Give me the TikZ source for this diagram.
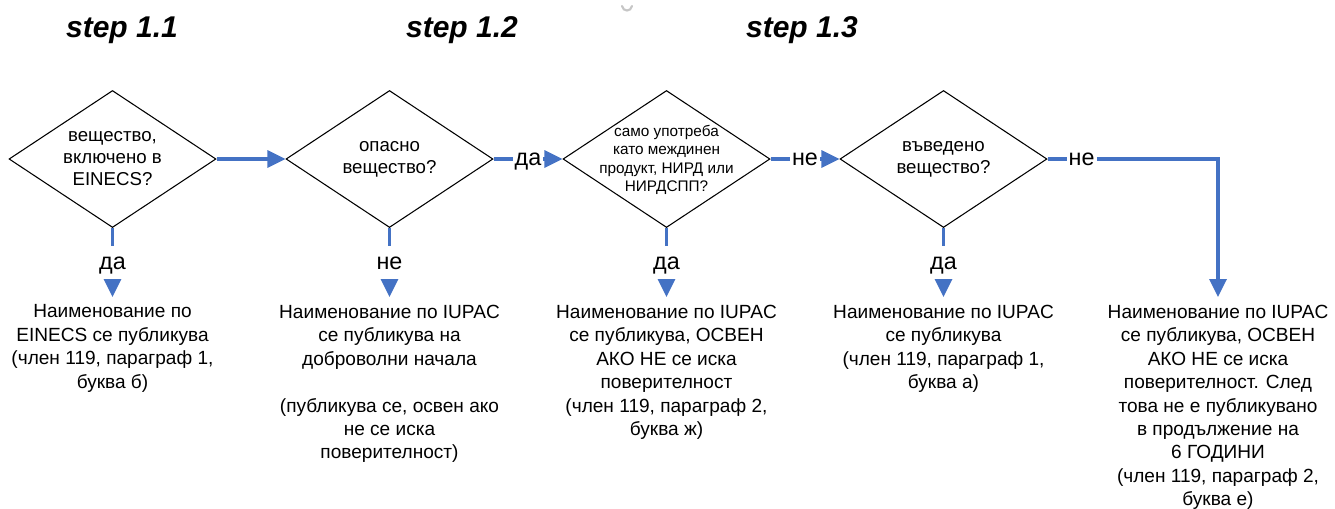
\documentclass[tikz,border=0pt]{standalone}
\usepackage{fontspec}
\setmainfont{Liberation Sans}
\usetikzlibrary{shapes.geometric,arrows.meta}
\definecolor{flowblue}{HTML}{4472C4}
\begin{document}
\begin{tikzpicture}[x=0.75pt,y=-0.75pt,
  decision/.style={diamond,draw=black,line width=0.8pt,
    minimum width=155.25pt,minimum height=102.75pt,inner sep=0pt},
  qtext/.style={align=center,inner sep=0pt,
    font=\fontsize{14pt}{16.5pt}\selectfont},
  qsmall/.style={align=center,inner sep=0pt,
    font=\fontsize{11.5pt}{13.9pt}\selectfont},
  outcome/.style={anchor=north,align=center,inner xsep=0pt,inner ysep=5.7pt,
    font=\fontsize{14.3pt}{17.6pt}\selectfont},
  flow/.style={draw=flowblue,line width=2.5pt,
    -{Triangle[length=13.5pt,width=12.75pt]}},
  lab/.style={fill=white,inner xsep=1.5pt,inner ysep=0pt,minimum height=24.75pt,
    text height=10pt,text depth=0pt,
    font=\fontsize{17.5pt}{20pt}\selectfont},
  steptitle/.style={anchor=base,font=\fontsize{22.5pt}{27pt}\selectfont\bfseries\itshape}
]
\useasboundingbox (0,0) rectangle (1335,508);

% step headings
\node[steptitle] (s1) at (122,37) {step 1.1};
\node[steptitle] (s2) at (462,37) {step 1.2};
\node[steptitle] (s3) at (802,37) {step 1.3};

% small grey tick at the top edge
\draw[gray!45,line width=1.6pt,line cap=round]
  (622,6) .. controls (623,12) and (631,12) .. (632,6);

% decision diamonds
\node[decision] (d1) at (112.5,159) {};
\node[decision] (d2) at (389.5,159) {};
\node[decision] (d3) at (666.5,159) {};
\node[decision] (d4) at (943.5,159) {};

\node[qtext]  (q1) at (d1.center) {вещество,\\включено в\\EINECS?};
\node[qtext]  (q2) at (d2.center) {опасно\\вещество?};
\node[qsmall] (q3) at (666.5,160) {само употреба\\като междинен\\продукт, НИРД или\\НИРДСПП?};
\node[qtext]  (q4) at (d4.center) {въведено\\вещество?};

% outcomes
\node[outcome] (e1) at (112.5,297) {Наименование по\\EINECS се публикува\\(член 119, параграф 1,\\буква б)};
\node[outcome] (e2) at (389.5,297) {Наименование по IUPAC\\се публикува на\\доброволни начала\\\mbox{}\\(публикува се, освен ако\\не се иска\\поверителност)};
\node[outcome] (e3) at (666.5,297) {Наименование по IUPAC\\се публикува, ОСВЕН\\АКО НЕ се иска\\поверителност\\(член 119, параграф 2,\\буква ж)};
\node[outcome] (e4) at (943.5,297) {Наименование по IUPAC\\се публикува\\(член 119, параграф 1,\\буква а)};
\node[outcome] (e5) at (1218,297) {Наименование по IUPAC\\се публикува, ОСВЕН\\АКО НЕ се иска\\поверителност. След\\това не е публикувано\\в продължение на\\6 ГОДИНИ\\(член 119, параграф 2,\\буква е)};

% horizontal flow
\draw[flow] (d1.east) -- (d2.west);
\draw[flow] (d2.east) -- node[lab] {да} (d3.west);
\draw[flow] (d3.east) -- node[lab] {не} (d4.west);
\draw[flow] (d4.east) -- node[lab,pos=0.2] {не} (d4.east -| e5.north) -- (e5.north);

% downward flow
\draw[flow] (d1.south) -- node[lab] {да} (e1.north);
\draw[flow] (d2.south) -- node[lab] {не} (e2.north);
\draw[flow] (d3.south) -- node[lab] {да} (e3.north);
\draw[flow] (d4.south) -- node[lab] {да} (e4.north);
\end{tikzpicture}
\end{document}
